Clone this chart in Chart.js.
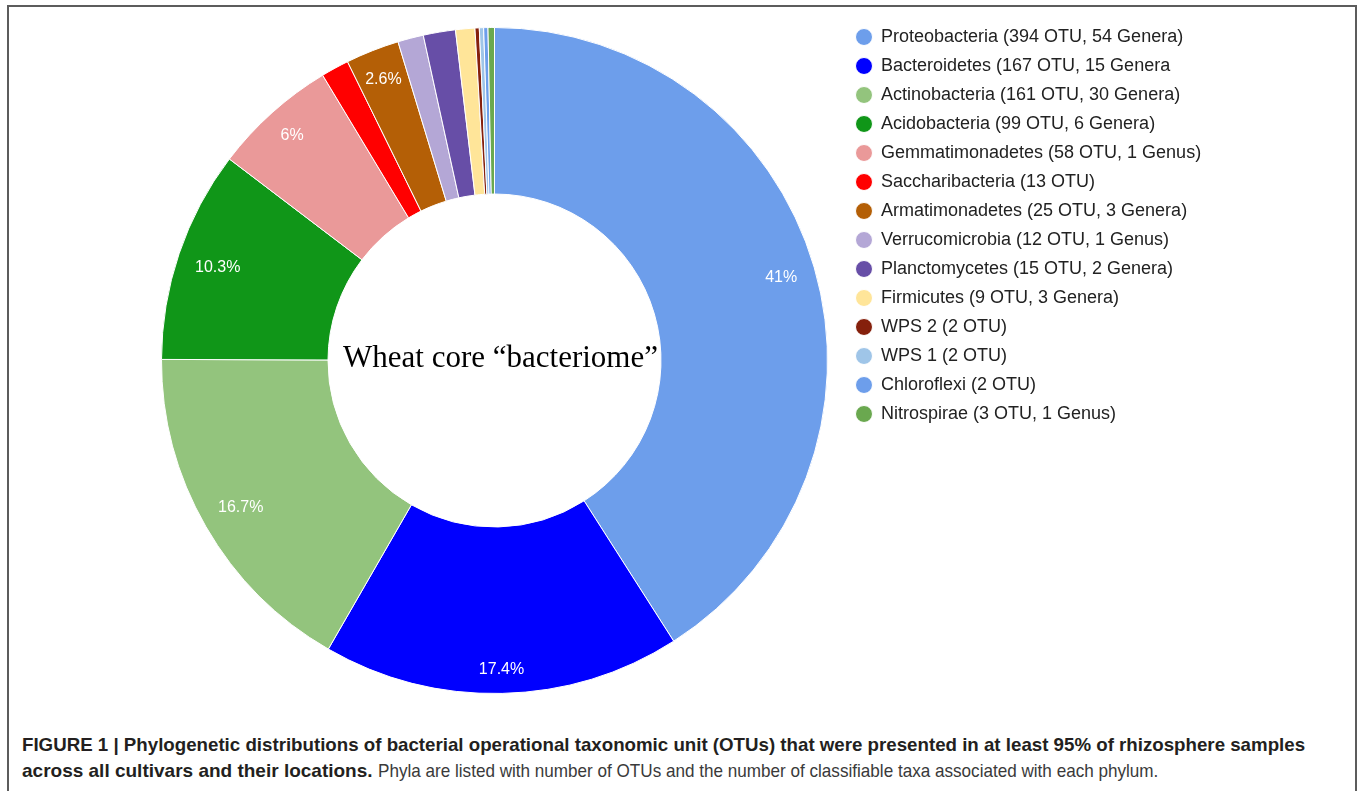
<!DOCTYPE html>
<html>
<head>
<meta charset="utf-8">
<script src="https://cdn.jsdelivr.net/npm/chart.js@4.4.0/dist/chart.umd.min.js"></script>
<style>
html,body{margin:0;padding:0;background:#fff;width:1362px;height:791px;overflow:hidden;}
#frame{position:absolute;left:7px;top:5px;width:1350px;height:830px;border:2px solid #5c5c5c;box-sizing:border-box;}
#wrap{position:absolute;left:0;top:0;width:1362px;height:720px;}
#caption{position:absolute;left:22px;top:732px;font-family:"Liberation Sans",Arial,sans-serif;font-size:19px;line-height:26px;color:#231f20;white-space:nowrap;}
#caption .l1{display:inline-block;transform:scaleX(0.984);transform-origin:0 50%;font-weight:bold;}
#caption b{font-weight:bold;}
#caption .rest{display:inline-block;color:#3a3a3a;transform:scaleX(0.9);transform-origin:0 50%;}
</style>
</head>
<body>
<div id="frame"></div>
<div id="wrap"><canvas id="c" width="1362" height="720"></canvas></div>
<div id="caption"><span class="l1">FIGURE 1 | Phylogenetic distributions of bacterial operational taxonomic unit (OTUs) that were presented in at least 95% of rhizosphere samples</span><br><b>across all cultivars and their locations.</b> <span class="rest">Phyla are listed with number of OTUs and the number of classifiable taxa associated with each phylum.</span></div>
<script>
// ---- data ----
const phylumLabels = [
  'Proteobacteria (394 OTU, 54 Genera)',
  'Bacteroidetes (167 OTU, 15 Genera',
  'Actinobacteria (161 OTU, 30 Genera)',
  'Acidobacteria (99 OTU, 6 Genera)',
  'Gemmatimonadetes (58 OTU, 1 Genus)',
  'Saccharibacteria (13 OTU)',
  'Armatimonadetes (25 OTU, 3 Genera)',
  'Verrucomicrobia (12 OTU, 1 Genus)',
  'Planctomycetes (15 OTU, 2 Genera)',
  'Firmicutes (9 OTU, 3 Genera)',
  'WPS 2 (2 OTU)',
  'WPS 1 (2 OTU)',
  'Chloroflexi (2 OTU)',
  'Nitrospirae (3 OTU, 1 Genus)'
];
const otuCounts = [394, 167, 161, 99, 58, 13, 25, 12, 15, 9, 2, 2, 2, 3];
const sliceColors = [
  '#6d9eeb', '#0000ff', '#93c47d', '#109618', '#ea9999', '#ff0000', '#b45f06',
  '#b4a7d6', '#674ea7', '#ffe599', '#85200c', '#9fc5e8', '#6d9eeb', '#6aa84f'
];
const centerTitle = 'Wheat core \u201Cbacteriome\u201D';

// ---- helpers / plugins ----
function formatPct(p) {
  const s = (Math.round(p * 10) / 10).toFixed(1);
  return (s.endsWith('.0') ? s.slice(0, -2) : s) + '%';
}

const LEGEND_LEFT = 845;
const legendWidthPlugin = {
  id: 'legendWidth',
  beforeLayout(chart) {
    const lg = chart.legend;
    if (lg && !lg._fixedFit) {
      const orig = lg.fit.bind(lg);
      lg.fit = function () { orig(); this.width = chart.width - LEGEND_LEFT; };
      lg._fixedFit = true;
    }
  }
};

const sliceLabelPlugin = {
  id: 'sliceLabels',
  afterDatasetsDraw(chart) {
    const meta = chart.getDatasetMeta(0);
    const data = chart.data.datasets[0].data;
    const total = data.reduce((a, b) => a + b, 0);
    const ctx = chart.ctx;
    ctx.save();
    ctx.font = '16px "Liberation Sans", Arial, sans-serif';
    ctx.fillStyle = '#ffffff';
    ctx.textAlign = 'center';
    ctx.textBaseline = 'middle';
    meta.data.forEach((arc, i) => {
      const pct = data[i] / total * 100;
      if (pct < 2) return;
      const txt = formatPct(pct);
      const p = arc.getProps(['x', 'y', 'startAngle', 'endAngle', 'outerRadius'], true);
      const mid = (p.startAngle + p.endAngle) / 2;
      const w = ctx.measureText(txt).width, h = 14;
      const ext = Math.abs(Math.cos(mid)) * w / 2 + Math.abs(Math.sin(mid)) * h / 2;
      const r = p.outerRadius - 17 - ext;
      ctx.fillText(txt, p.x + r * Math.cos(mid), p.y + 1 + r * Math.sin(mid));
    });
    ctx.restore();
  }
};

const centerTextPlugin = {
  id: 'centerText',
  afterDraw(chart) {
    const arc = chart.getDatasetMeta(0).data[0];
    if (!arc) return;
    const ctx = chart.ctx;
    ctx.save();
    ctx.font = '31px "Liberation Serif", "Times New Roman", serif';
    ctx.fillStyle = '#000000';
    ctx.textAlign = 'center';
    ctx.textBaseline = 'middle';
    ctx.fillText(centerTitle, arc.x + 6, arc.y - 2);
    ctx.restore();
  }
};

new Chart(document.getElementById('c'), {
  type: 'doughnut',
  data: {
    labels: phylumLabels,
    datasets: [{
      data: otuCounts,
      backgroundColor: sliceColors,
      borderColor: '#ffffff',
      borderWidth: 1,
      hoverOffset: 0
    }]
  },
  options: {
    responsive: false,
    animation: false,
    radius: 333,
    cutout: '50%',
    layout: { padding: { left: 144, right: 0, top: 17, bottom: 16 } },
    plugins: {
      tooltip: { enabled: false },
      legend: {
        position: 'right',
        align: 'start',
        labels: {
          usePointStyle: true,
          pointStyle: 'circle',
          boxWidth: 16,
          boxHeight: 12,
          padding: 11,
          color: '#222222',
          font: { family: '"Liberation Sans", Arial, sans-serif', size: 18 }
        }
      }
    }
  },
  plugins: [legendWidthPlugin, sliceLabelPlugin, centerTextPlugin]
});
</script>
</body>
</html>
